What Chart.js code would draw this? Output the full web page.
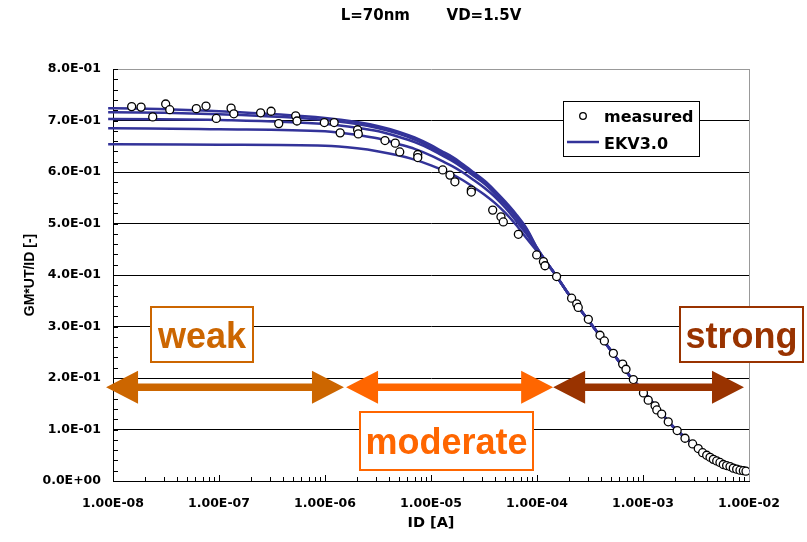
<!DOCTYPE html>
<html>
<head>
<meta charset="utf-8">
<script src="https://cdn.jsdelivr.net/npm/chart.js@4.4.0/dist/chart.umd.min.js"></script>
<style>
  html, body { margin: 0; padding: 0; background: #fff; }
</style>
</head>
<body>
<canvas id="grafica" width="807" height="542"></canvas>
<script>
// Corriente ID [A] de las curvas EKV3.0 (compartida por las cinco curvas)
const corrienteEKV = [9e-9, 1e-8, 1e-7, 1e-6, 2e-6, 3.2e-6, 5e-6, 7e-6, 1e-5, 1.25e-5, 1.6e-5, 2e-5, 2.5e-5,
                      3.2e-5, 4e-5, 5e-5, 6.3e-5, 8e-5, 1e-4, 1.5e-4, 2e-4, 3e-4, 5e-4, 7.5e-4, 1e-3,
                      1.5e-3, 2e-3, 3e-3, 5e-3, 7e-3, 1e-2];
// GM*UT/ID de cada curva EKV3.0 (de arriba a abajo)
const ekvA = [0.724, 0.724, 0.718, 0.705, 0.697, 0.689, 0.678, 0.667, 0.652, 0.641, 0.629, 0.615, 0.600,
              0.583, 0.564, 0.543, 0.519, 0.490, 0.453, 0.400, 0.362, 0.314, 0.253, 0.204, 0.175,
              0.131, 0.102, 0.071, 0.040, 0.027, 0.018];
const ekvB = [0.716, 0.716, 0.712, 0.701, 0.693, 0.685, 0.674, 0.663, 0.648, 0.637, 0.625, 0.611, 0.597,
              0.580, 0.561, 0.540, 0.516, 0.488, 0.452, 0.400, 0.362, 0.314, 0.253, 0.204, 0.175,
              0.131, 0.102, 0.071, 0.040, 0.027, 0.018];
const ekvC = [0.703, 0.703, 0.701, 0.693, 0.686, 0.679, 0.668, 0.658, 0.644, 0.633, 0.621, 0.608, 0.593,
              0.577, 0.558, 0.537, 0.512, 0.484, 0.451, 0.400, 0.362, 0.314, 0.253, 0.204, 0.175,
              0.131, 0.102, 0.071, 0.040, 0.027, 0.018];
const ekvD = [0.685, 0.685, 0.683, 0.679, 0.672, 0.665, 0.654, 0.645, 0.632, 0.622, 0.611, 0.599, 0.585,
              0.569, 0.552, 0.531, 0.506, 0.479, 0.449, 0.400, 0.362, 0.314, 0.253, 0.204, 0.175,
              0.131, 0.102, 0.071, 0.040, 0.027, 0.018];
const ekvE = [0.654, 0.654, 0.653, 0.651, 0.646, 0.640, 0.632, 0.624, 0.613, 0.605, 0.595, 0.584, 0.571,
              0.556, 0.540, 0.521, 0.498, 0.471, 0.446, 0.400, 0.362, 0.314, 0.253, 0.204, 0.175,
              0.131, 0.102, 0.071, 0.040, 0.027, 0.018];

// Puntos medidos
const corrienteMedida = [1.50e-8, 1.84e-8, 2.37e-8, 3.14e-8, 3.43e-8, 6.11e-8, 7.54e-8, 9.43e-8, 1.30e-7, 1.38e-7,
  2.47e-7, 3.10e-7, 3.66e-7, 5.29e-7, 5.44e-7, 9.85e-7, 1.22e-6, 1.39e-6, 2.03e-6, 2.06e-6,
  3.68e-6, 4.60e-6, 5.07e-6, 7.50e-6, 7.50e-6, 1.29e-5, 1.51e-5, 1.68e-5, 2.40e-5, 2.40e-5,
  3.82e-5, 4.57e-5, 4.81e-5, 6.67e-5, 9.93e-5, 1.15e-4, 1.19e-4, 1.53e-4, 2.12e-4, 2.37e-4,
  2.45e-4, 3.05e-4, 3.93e-4, 4.32e-4, 5.25e-4, 6.43e-4, 6.91e-4, 8.11e-4, 1.01e-3, 1.12e-3,
  1.30e-3, 1.35e-3, 1.50e-3, 1.73e-3, 2.10e-3, 2.49e-3, 2.94e-3, 3.32e-3, 3.65e-3, 3.99e-3,
  4.29e-3, 4.61e-3, 4.96e-3, 5.32e-3, 5.72e-3, 6.15e-3, 6.62e-3, 7.11e-3, 7.65e-3, 8.22e-3,
  8.84e-3, 9.37e-3];
const gmMedida = [0.727, 0.726, 0.707, 0.732, 0.721, 0.723, 0.728, 0.704, 0.724, 0.713,
  0.715, 0.718, 0.694, 0.709, 0.699, 0.696, 0.696, 0.676, 0.682, 0.674,
  0.661, 0.656, 0.639, 0.634, 0.628, 0.604, 0.594, 0.581, 0.565, 0.561,
  0.526, 0.513, 0.503, 0.479, 0.439, 0.426, 0.418, 0.397, 0.355, 0.344,
  0.337, 0.314, 0.283, 0.272, 0.248, 0.227, 0.217, 0.197, 0.171, 0.157,
  0.146, 0.138, 0.130, 0.115, 0.098, 0.083, 0.072, 0.063, 0.055, 0.050,
  0.046, 0.042, 0.039, 0.036, 0.032, 0.030, 0.028, 0.025, 0.023, 0.021,
  0.020, 0.019];

// Zonas de inversión (en unidades de los ejes)
const zonas = [
  { texto: 'weak', color: '#CC6600', flecha: [8.6e-9, 1.51e-6], caja: [2.28e-8, 2.09e-7, 0.338, 0.231] },
  { texto: 'moderate', color: '#FF6600', flecha: [1.58e-6, 1.42e-4], caja: [2.14e-6, 9.16e-5, 0.134, 0.021] },
  { texto: 'strong', color: '#993300', flecha: [1.42e-4, 8.97e-3], caja: [2.23e-3, 3.2e-2, 0.338, 0.231] }
];
const alturaFlechas = 0.182;

const FUENTE = "'DejaVu Sans', sans-serif";
const AZUL = '#333399';

function formatoExp(v, dec) {
  if (v === 0) return (0).toFixed(dec) + 'E+00';
  const partes = Number(v).toExponential(dec).split('e');
  const n = parseInt(partes[1], 10);
  return partes[0] + 'E' + (n < 0 ? '-' : '+') + String(Math.abs(n)).padStart(2, '0');
}

function esDecada(v) {
  const e = Math.log10(v);
  return Math.abs(e - Math.round(e)) < 1e-9;
}

// marcas menores y borde derecho
const marcasMenores = {
  id: 'marcasMenores',
  beforeDatasetsDraw(chart) {
    const { ctx, chartArea: a, scales: { x, y } } = chart;
    ctx.save();
    ctx.strokeStyle = '#000';
    ctx.lineWidth = 1;
    ctx.beginPath();
    for (let e = -8; e < -2; e++) {
      for (let k = 1; k <= 9; k++) {
        const px = Math.round(x.getPixelForValue(k * Math.pow(10, e))) + 0.5;
        ctx.moveTo(px, a.bottom);
        ctx.lineTo(px, a.bottom - (k === 1 ? 6 : 4));
      }
    }
    for (let i = 0; i <= 40; i++) {
      const py = Math.round(y.getPixelForValue(i * 0.02)) + 0.5;
      ctx.moveTo(a.left, py);
      ctx.lineTo(a.left + 5, py);
    }
    ctx.stroke();
    ctx.strokeStyle = '#999';
    ctx.beginPath();
    ctx.moveTo(Math.round(a.right) + 0.5, a.top);
    ctx.lineTo(Math.round(a.right) + 0.5, a.bottom);
    ctx.stroke();
    ctx.restore();
  }
};

function dibujarFlecha(ctx, x1, x2, y, color) {
  const cabeza = 32, alto = 16.5, media = 3.7;
  ctx.fillStyle = color;
  ctx.beginPath();
  ctx.moveTo(x1, y);
  ctx.lineTo(x1 + cabeza, y - alto);
  ctx.lineTo(x1 + cabeza, y - media);
  ctx.lineTo(x2 - cabeza, y - media);
  ctx.lineTo(x2 - cabeza, y - alto);
  ctx.lineTo(x2, y);
  ctx.lineTo(x2 - cabeza, y + alto);
  ctx.lineTo(x2 - cabeza, y + media);
  ctx.lineTo(x1 + cabeza, y + media);
  ctx.lineTo(x1 + cabeza, y + alto);
  ctx.closePath();
  ctx.fill();
}

const zonasInversion = {
  id: 'zonasInversion',
  afterDatasetsDraw(chart) {
    const { ctx, scales: { x, y } } = chart;
    ctx.save();
    const py = y.getPixelForValue(alturaFlechas);
    zonas.forEach(z => {
      dibujarFlecha(ctx, x.getPixelForValue(z.flecha[0]), x.getPixelForValue(z.flecha[1]), py, z.color);
      const x1 = Math.round(x.getPixelForValue(z.caja[0])), x2 = Math.round(x.getPixelForValue(z.caja[1]));
      const y1 = Math.round(y.getPixelForValue(z.caja[2])), y2 = Math.round(y.getPixelForValue(z.caja[3]));
      ctx.fillStyle = '#fff';
      ctx.fillRect(x1, y1, x2 - x1, y2 - y1);
      ctx.strokeStyle = z.color;
      ctx.lineWidth = 2;
      ctx.strokeRect(x1, y1, x2 - x1, y2 - y1);
      ctx.fillStyle = z.color;
      ctx.font = "bold 36px 'Liberation Sans', Arial, sans-serif";
      ctx.textAlign = 'center';
      ctx.textBaseline = 'alphabetic';
      ctx.fillText(z.texto, (x1 + x2) / 2, (y1 + y2) / 2 + 13);
    });
    ctx.restore();
  }
};

const leyenda = {
  id: 'leyenda',
  afterDraw(chart) {
    const { ctx, chartArea: a } = chart;
    const x0 = Math.round(a.right) - 186, y0 = Math.round(a.top) + 32;
    ctx.save();
    ctx.fillStyle = '#fff';
    ctx.fillRect(x0, y0, 136, 55);
    ctx.strokeStyle = '#000';
    ctx.lineWidth = 1;
    ctx.strokeRect(x0 + 0.5, y0 + 0.5, 136, 55);
    ctx.beginPath();
    ctx.arc(x0 + 20, y0 + 15, 3.3, 0, Math.PI * 2);
    ctx.fillStyle = '#fff';
    ctx.fill();
    ctx.lineWidth = 1.3;
    ctx.stroke();
    ctx.strokeStyle = AZUL;
    ctx.lineWidth = 2.5;
    ctx.beginPath();
    ctx.moveTo(x0 + 4, y0 + 41);
    ctx.lineTo(x0 + 36, y0 + 41);
    ctx.stroke();
    ctx.fillStyle = '#000';
    ctx.font = 'bold 16px ' + FUENTE;
    ctx.textAlign = 'left';
    ctx.textBaseline = 'alphabetic';
    ctx.fillText('measured', x0 + 41, y0 + 21);
    ctx.fillText('EKV3.0', x0 + 41, y0 + 48);
    ctx.restore();
  }
};

const curvas = [ekvA, ekvB, ekvC, ekvD, ekvE];
const datasets = [{
  label: 'measured',
  data: corrienteMedida.map((id, i) => ({ x: id, y: gmMedida[i] })),
  showLine: false,
  pointRadius: 4,
  pointBackgroundColor: '#fff',
  pointBorderColor: '#000',
  pointBorderWidth: 1.3
}];
curvas.forEach(curva => {
  datasets.push({
    label: 'EKV3.0',
    data: corrienteEKV.map((id, i) => ({ x: id, y: curva[i] })),
    showLine: true,
    borderColor: AZUL,
    borderWidth: 2.5,
    pointRadius: 0,
    cubicInterpolationMode: 'monotone',
    clip: false
  });
});

new Chart(document.getElementById('grafica'), {
  type: 'scatter',
  data: { datasets: datasets },
  options: {
    responsive: false,
    animation: false,
    events: [],
    layout: { padding: { top: 0, right: 58, bottom: 0, left: 0 } },
    plugins: {
      legend: { display: false },
      tooltip: { enabled: false },
      title: {
        display: true,
        fullSize: false,
        text: 'L=70nm       VD=1.5V',
        color: '#000',
        font: { family: FUENTE, size: 15, weight: 'bold' },
        padding: { top: 7, bottom: 44 }
      }
    },
    scales: {
      x: {
        type: 'logarithmic',
        min: 1e-8,
        max: 1e-2,
        afterFit: s => { s.height = 61; },
        grid: { display: false, drawTicks: false },
        border: { display: true, color: '#000', width: 1 },
        ticks: {
          autoSkip: false,
          maxRotation: 0,
          padding: 15,
          color: '#000',
          font: { family: FUENTE, size: 12.5, weight: 'bold' },
          callback: v => esDecada(v) ? formatoExp(v, 2) : ''
        },
        title: {
          display: true,
          text: 'ID [A]',
          color: '#000',
          font: { family: FUENTE, size: 14.5, weight: 'bold' },
          padding: { top: 0, bottom: 10.3 }
        }
      },
      y: {
        min: 0,
        max: 0.8,
        afterFit: s => { s.width = 113; },
        grid: {
          drawTicks: false,
          color: c => (c.tick && c.tick.value > 0.79 ? '#999' : '#000'),
          lineWidth: 1
        },
        border: { display: true, color: '#000', width: 1 },
        ticks: {
          stepSize: 0.1,
          padding: 12,
          color: '#000',
          font: { family: FUENTE, size: 12.5, weight: 'bold' },
          callback: v => formatoExp(v, 1)
        },
        title: {
          display: true,
          text: 'GM*UT/ID [-]',
          color: '#000',
          font: { family: "'Liberation Sans', Arial, sans-serif", size: 14, weight: 'bold' },
          padding: { top: 21.6, bottom: 0 }
        }
      }
    }
  },
  plugins: [marcasMenores, zonasInversion, leyenda]
});
</script>
</body>
</html>
